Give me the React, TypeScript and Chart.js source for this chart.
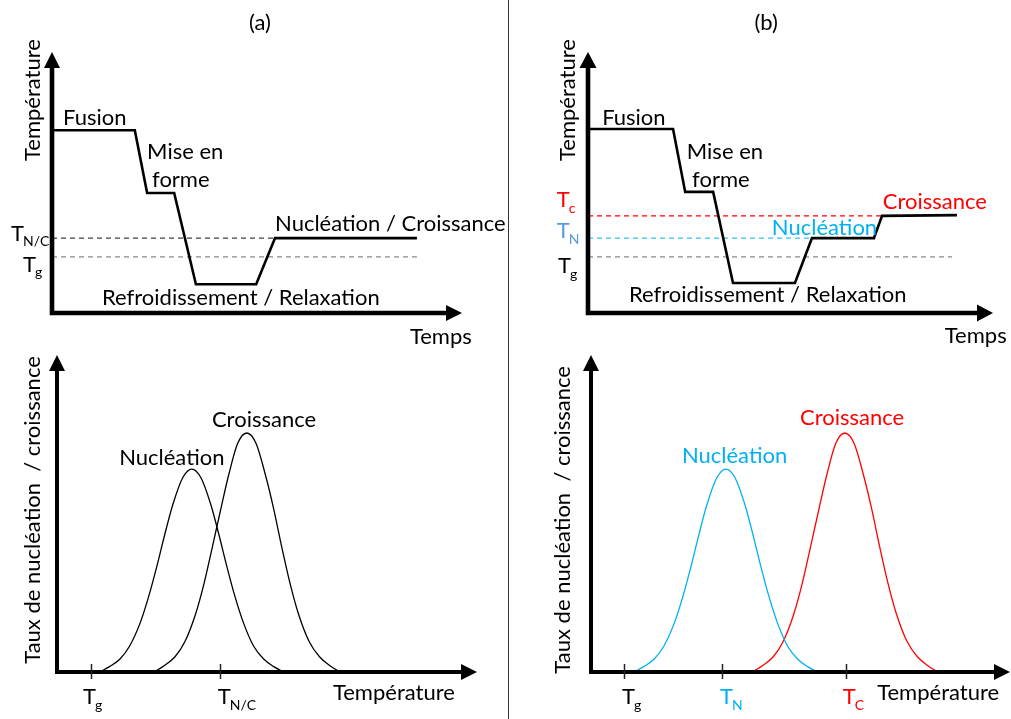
import React, { useEffect, useRef } from "react";
import { Chart, registerables } from "chart.js";

Chart.register(...registerables);

const FONT = "Lato, 'Open Sans', sans-serif";
const BLUE = "#00B0F0";
const BLUE_LABEL = "#5B9BD5";
const RED = "#FF0000";

// ---------- Panel (a) top : température vs temps ----------
const timeA = [0, 20.2, 23.2, 29.8, 35.1, 49.8, 54.4, 89];
const tempA = [70, 70, 46, 46, 11, 11, 28.7, 28.7];
const levelTncA = 28.7;
const levelTgA = 21.5;
const levelEndA = 89;

// ---------- Panel (b) top ----------
const timeB = [0, 21, 24, 30.9, 35.8, 51.1, 55.3, 70.6, 72.6, 91.1];
const tempB = [70.5, 70.5, 46.4, 46.4, 11.5, 11.5, 28.7, 28.7, 37.2, 37.5];
const levelTcB = 37.2;
const levelTnB = 28.7;
const levelTgB = 21.5;
const levelTcEndB = 72.6;
const levelTnEndB = 55.3;
const levelTgEndB = 89.9;

// ---------- Panel (a) bottom : taux vs température ----------
const nucTempA = [10.2, 12.5, 15, 17.3, 19.8, 21.8, 23.8, 25.7, 27.6, 29.9, 32.1, 34.3, 36.6, 38.5, 40.4, 42.4, 44.4, 46.8, 49.2, 51.6, 54];
const nucRateA = [0, 1.7, 4.1, 8.2, 15.5, 23.7, 33.5, 43.6, 52.9, 61.2, 64, 61.2, 52.9, 43.6, 33.5, 23.7, 15.5, 8.2, 4.1, 1.7, 0];
const croTempA = [23.1, 25.5, 28.1, 30.5, 33, 35, 37, 39, 40.9, 43, 45.2, 47.4, 49.6, 51.6, 53.5, 55.5, 57.5, 60, 62.5, 65, 67.4];
const croRateA = [0, 2, 4.8, 9.7, 18.3, 27.9, 39.5, 51.4, 62.3, 72.1, 75.4, 72.1, 62.3, 51.4, 39.5, 27.9, 18.3, 9.7, 4.8, 2, 0];
const tickTgA = 8.1;
const tickTncA = 38.8;

// ---------- Panel (b) bottom ----------
const nucTempB = [10.3, 12.6, 15.1, 17.4, 19.9, 21.9, 23.9, 25.8, 27.7, 30, 32.2, 34.4, 36.7, 38.6, 40.5, 42.5, 44.5, 46.9, 49.3, 51.7, 54.1];
const nucRateB = [0, 1.7, 4.1, 8.2, 15.5, 23.7, 33.5, 43.6, 52.9, 61.2, 64, 61.2, 52.9, 43.6, 33.5, 23.7, 15.5, 8.2, 4.1, 1.7, 0];
const croTempB = [38.5, 40.9, 43.5, 45.9, 48.4, 50.4, 52.4, 54.4, 56.3, 58.4, 60.6, 62.8, 65, 67, 68.9, 70.9, 72.9, 75.4, 77.9, 80.4, 82.8];
const croRateB = [0, 2, 4.8, 9.7, 18.3, 27.9, 39.5, 51.4, 62.3, 72.1, 75.4, 72.1, 62.3, 51.4, 39.5, 27.9, 18.3, 9.7, 4.8, 2, 0];
const tickTgB = 7.9;
const tickTnB = 31.3;
const tickTcB = 60.9;

type Label = {
  text: string;
  x: number;
  y: number;
  color?: string;
  align?: CanvasTextAlign;
  rotate?: boolean;
  sub?: string;
  subColor?: string;
  size?: number;
};

type Deco = {
  axisWidth: number;
  headLen: number;
  headHalf: number;
  ticks: number[];
  labels: Label[];
};

const pts = (xs: number[], ys: number[]) => xs.map((x, i) => ({ x, y: ys[i] }));

function solid(xs: number[], ys: number[], color: string, width: number, smooth = false) {
  return {
    data: pts(xs, ys),
    borderColor: color,
    borderWidth: width,
    pointRadius: 0,
    fill: false,
    clip: false as const,
    tension: smooth ? 0.4 : 0,
    cubicInterpolationMode: smooth ? ("monotone" as const) : ("default" as const),
  };
}

function dashed(level: number, end: number, color: string) {
  return {
    data: [{ x: 0, y: level }, { x: end, y: level }],
    borderColor: color,
    borderWidth: 1.3,
    borderDash: [5, 4],
    pointRadius: 0,
    fill: false,
    clip: false as const,
  };
}

function makePlugin(deco: Deco) {
  return {
    id: "schematic",
    afterDatasetsDraw(chart: any) {
      const { ctx, chartArea: a, scales } = chart;
      const sx = scales.x;
      const sy = scales.y;
      const w = deco.axisWidth;
      const hl = deco.headLen;
      const hw = deco.headHalf;
      ctx.save();
      ctx.strokeStyle = "#000";
      ctx.fillStyle = "#000";
      ctx.lineWidth = w;
      ctx.lineCap = "butt";
      ctx.beginPath();
      ctx.moveTo(a.left, a.bottom + w / 2);
      ctx.lineTo(a.left, a.top + hl - 1);
      ctx.moveTo(a.left - w / 2, a.bottom);
      ctx.lineTo(a.right - hl + 1, a.bottom);
      ctx.stroke();
      ctx.beginPath();
      ctx.moveTo(a.left, a.top);
      ctx.lineTo(a.left - hw, a.top + hl);
      ctx.lineTo(a.left + hw, a.top + hl);
      ctx.closePath();
      ctx.fill();
      ctx.beginPath();
      ctx.moveTo(a.right, a.bottom);
      ctx.lineTo(a.right - hl, a.bottom - hw);
      ctx.lineTo(a.right - hl, a.bottom + hw);
      ctx.closePath();
      ctx.fill();

      // ticks on the temperature axis
      ctx.lineWidth = 1.5;
      ctx.strokeStyle = "#222";
      for (const t of deco.ticks) {
        const px = Math.round(sx.getPixelForValue(t)) + 0.5;
        ctx.beginPath();
        ctx.moveTo(px, a.bottom - 8);
        ctx.lineTo(px, a.bottom + 7);
        ctx.stroke();
      }

      // labels
      ctx.textBaseline = "middle";
      for (const l of deco.labels) {
        const px = sx.getPixelForValue(l.x);
        const py = sy.getPixelForValue(l.y);
        const size = l.size ?? 22;
        ctx.font = `${size}px ${FONT}`;
        ctx.fillStyle = l.color ?? "#000";
        if (l.rotate) {
          ctx.save();
          ctx.translate(px, py);
          ctx.rotate(-Math.PI / 2);
          ctx.textAlign = "center";
          ctx.fillText(l.text, 0, 0);
          ctx.restore();
          continue;
        }
        ctx.textAlign = l.align ?? "left";
        ctx.fillText(l.text, px, py);
        if (l.sub) {
          const tw = ctx.measureText(l.text).width;
          ctx.font = `${Math.round(size * 0.63)}px ${FONT}`;
          ctx.fillStyle = l.subColor ?? l.color ?? "#000";
          ctx.textAlign = "left";
          ctx.fillText(l.sub, px + tw - 1, py + 8);
        }
      }
      ctx.restore();
    },
  };
}

function makeConfig(datasets: any[], padding: any, deco: Deco) {
  return {
    type: "line" as const,
    data: { datasets },
    options: {
      responsive: false,
      animation: false as const,
      layout: { padding },
      scales: {
        x: { type: "linear" as const, min: 0, max: 100, display: false },
        y: { type: "linear" as const, min: 0, max: 100, display: false },
      },
      plugins: { legend: { display: false }, tooltip: { enabled: false }, title: { display: false } },
    },
    plugins: [makePlugin(deco)],
  };
}

function Panel({ left, top, width, height, build }: { left: number; top: number; width: number; height: number; build: () => any }) {
  const ref = useRef<HTMLCanvasElement>(null);
  useEffect(() => {
    const chart = new Chart(ref.current!, build());
    return () => chart.destroy();
  }, []);
  return (
    <div style={{ position: "absolute", left, top, width, height }}>
      <canvas ref={ref} width={width} height={height} style={{ width, height, display: "block" }} />
    </div>
  );
}

const topA = () =>
  makeConfig(
    [solid(timeA, tempA, "#000", 2.6), dashed(levelTncA, levelEndA, "#404040"), dashed(levelTgA, levelEndA, "#8a8a8a")],
    { left: 52, right: 45, top: 52, bottom: 37 },
    {
      axisWidth: 4.6,
      headLen: 16,
      headHalf: 8,
      ticks: [],
      labels: [
        { text: "(a)", x: 50.7, y: 111, align: "center" },
        { text: "Température", x: -4.6, y: 81.6, rotate: true },
        { text: "Fusion", x: 2.7, y: 74.7 },
        { text: "Mise en", x: 23.2, y: 61.7 },
        { text: "forme", x: 24.4, y: 51 },
        { text: "Nucléation / Croissance", x: 54.4, y: 34.1 },
        { text: "Refroidissement / Relaxation", x: 12.2, y: 5.7 },
        { text: "Temps", x: 87.3, y: -9.2 },
        { text: "T", sub: "N/C", x: -10, y: 30.3 },
        { text: "T", sub: "g", x: -7.1, y: 18.4 },
      ],
    }
  );

const topB = () =>
  makeConfig(
    [
      solid(timeB, tempB, "#000", 2.6),
      dashed(levelTcB, levelTcEndB, RED),
      dashed(levelTnB, levelTnEndB, "#3DBDF0"),
      dashed(levelTgB, levelTgEndB, "#8a8a8a"),
    ],
    { left: 81, right: 18, top: 52, bottom: 37 },
    {
      axisWidth: 4.6,
      headLen: 16,
      headHalf: 8.5,
      ticks: [],
      labels: [
        { text: "(b)", x: 44, y: 111, align: "center" },
        { text: "Température", x: -4.9, y: 81.6, rotate: true },
        { text: "Fusion", x: 3.5, y: 74.7 },
        { text: "Mise en", x: 24.4, y: 61.7 },
        { text: "forme", x: 25.7, y: 51 },
        { text: "Croissance", x: 72.8, y: 42.5, color: RED },
        { text: "Nucléation", x: 45.4, y: 32.6, color: BLUE },
        { text: "Refroidissement / Relaxation", x: 10.1, y: 6.9 },
        { text: "Temps", x: 88.1, y: -8.8 },
        { text: "T", sub: "c", x: -7.7, y: 43.3, color: RED },
        { text: "T", sub: "N", x: -7.7, y: 31.4, color: BLUE_LABEL },
        { text: "T", sub: "g", x: -7.4, y: 18 },
      ],
    }
  );

const bottomA = () =>
  makeConfig(
    [solid(nucTempA, nucRateA, "#000", 1.3, true), solid(croTempA, croRateA, "#000", 1.3, true)],
    { left: 57, right: 30, top: 5, bottom: 47 },
    {
      axisWidth: 4,
      headLen: 16,
      headHalf: 8,
      ticks: [tickTgA, tickTncA],
      labels: [
        { text: "Taux de nucléation  / croissance", x: -5.7, y: 51.1, rotate: true },
        { text: "Croissance", x: 36.9, y: 79.5 },
        { text: "Nucléation", x: 14.8, y: 67.5 },
        { text: "Température", x: 65.7, y: -6.6 },
        { text: "T", sub: "g", x: 6.2, y: -7.9 },
        { text: "T", sub: "N/C", x: 38.3, y: -7.9 },
      ],
    }
  );

const bottomB = () =>
  makeConfig(
    [solid(nucTempB, nucRateB, BLUE, 1.3, true), solid(croTempB, croRateB, RED, 1.3, true)],
    { left: 84, right: 1, top: 5, bottom: 47 },
    {
      axisWidth: 4,
      headLen: 16,
      headHalf: 8,
      ticks: [tickTgB, tickTnB, tickTcB],
      labels: [
        { text: "Taux de nucléation  / croissance", x: -6.7, y: 48, rotate: true },
        { text: "Croissance", x: 49.9, y: 80.1, color: RED },
        { text: "Nucléation", x: 21.7, y: 68.1, color: BLUE },
        { text: "Température", x: 68.3, y: -6.6 },
        { text: "T", sub: "g", x: 7.4, y: -7.9 },
        { text: "T", sub: "N", x: 30.8, y: -7.9, color: BLUE },
        { text: "T", sub: "C", x: 60.1, y: -7.9, color: RED },
      ],
    }
  );

export default function App() {
  return (
    <div style={{ position: "fixed", left: 0, top: 0, width: 1011, height: 719, background: "#fff", overflow: "hidden" }}>
      <Panel left={0} top={0} width={507} height={350} build={topA} />
      <Panel left={507} top={0} width={504} height={350} build={topB} />
      <Panel left={0} top={350} width={507} height={369} build={bottomA} />
      <Panel left={507} top={350} width={504} height={369} build={bottomB} />
      <div style={{ position: "absolute", left: 508, top: 0, width: 1, height: 719, background: "#333" }} />
    </div>
  );
}
